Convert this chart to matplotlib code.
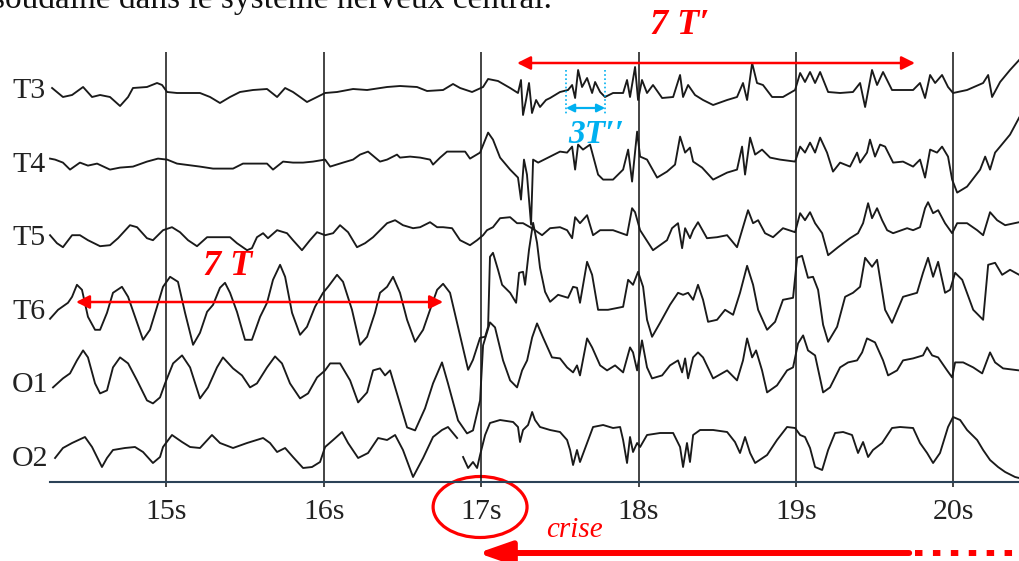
import matplotlib.pyplot as plt
import numpy as np
from matplotlib.patches import Ellipse

# EEG montage (time in s, amplitude in arbitrary units, up = positive)
channels = ['T3', 'T4', 'T5', 'T6', 'O1', 'O2']
seconds = [15, 16, 17, 18, 19, 20]
tick_labels = ['15s', '16s', '17s', '18s', '19s', '20s']

t_T3 = [14.273, 14.342, 14.400, 14.470, 14.527, 14.578, 14.641, 14.705, 14.756, 14.787, 14.876, 14.940,
        14.972, 15.004, 15.067, 15.213, 15.277, 15.340, 15.404, 15.467, 15.550, 15.639, 15.703, 15.754,
        15.804, 15.849, 15.893, 15.957, 16.008, 16.084, 16.186, 16.275, 16.402, 16.484, 16.592, 16.656,
        16.758, 16.821, 16.866, 16.942, 17.012, 17.044, 17.107, 17.184, 17.234, 17.253, 17.266, 17.285,
        17.304, 17.323, 17.349, 17.374, 17.412, 17.438, 17.501, 17.552, 17.578, 17.597, 17.616, 17.641,
        17.673, 17.705, 17.724, 17.756, 17.787, 17.838, 17.902, 17.927, 17.946, 17.978, 17.997, 18.022,
        18.054, 18.092, 18.150, 18.220, 18.264, 18.283, 18.315, 18.359, 18.410, 18.474, 18.563, 18.626,
        18.664, 18.690, 18.722, 18.753, 18.791, 18.849, 18.918, 18.995, 19.027, 19.058, 19.090, 19.122,
        19.154, 19.205, 19.281, 19.363, 19.408, 19.440, 19.484, 19.516, 19.554, 19.611, 19.745, 19.789,
        19.821, 19.853, 19.885, 19.929, 19.967, 19.999, 20.088, 20.190, 20.222, 20.247, 20.298, 20.361,
        20.419]
a_T3 = [0, -9, -7, 1, -9, -7, -9, -18, -9, 0, 1, 5,
        3, -4, -5, -5, -9, -15, -9, -4, -2, -1, -9, 0,
        -4, -9, -14, -9, -5, -4, -1, -2, 1, 2, 1, -3,
        -2, 4, 0, -4, 1, 9, 7, 0, -5, 8, -27, -12,
        5, -25, -12, -19, -12, -10, -4, -2, 3, -10, 18, 1,
        10, -5, 6, -4, -9, -5, -5, 8, -9, 21, -12, 8,
        -5, 3, -10, -9, 13, -9, 3, -7, -12, -17, -12, -9,
        5, -12, 25, 5, 3, -9, -9, -2, 15, 6, 16, 5,
        16, -4, -5, -4, 5, -19, 18, 3, 16, -2, -2, 5,
        -10, 13, 5, 13, 1, -5, -2, 5, 13, -9, 6, 18,
        28]

t_T4 = [14.260, 14.292, 14.342, 14.387, 14.450, 14.501, 14.559, 14.641, 14.705, 14.787, 14.876, 14.946,
        15.004, 15.067, 15.213, 15.296, 15.423, 15.486, 15.639, 15.677, 15.741, 15.804, 15.868, 15.931,
        16.008, 16.040, 16.122, 16.186, 16.230, 16.281, 16.357, 16.402, 16.465, 16.484, 16.548, 16.612,
        16.675, 16.694, 16.739, 16.783, 16.847, 16.898, 16.929, 16.993, 17.044, 17.075, 17.120, 17.184,
        17.234, 17.253, 17.272, 17.291, 17.317, 17.330, 17.362, 17.438, 17.501, 17.546, 17.578, 17.597,
        17.616, 17.647, 17.692, 17.743, 17.775, 17.838, 17.902, 17.934, 17.959, 17.991, 18.010, 18.054,
        18.118, 18.181, 18.232, 18.264, 18.296, 18.327, 18.347, 18.404, 18.474, 18.563, 18.626, 18.658,
        18.677, 18.709, 18.741, 18.785, 18.836, 18.899, 18.995, 19.027, 19.058, 19.090, 19.122, 19.154,
        19.198, 19.236, 19.281, 19.344, 19.389, 19.408, 19.452, 19.471, 19.503, 19.535, 19.567, 19.618,
        19.681, 19.745, 19.789, 19.821, 19.853, 19.897, 19.929, 19.967, 19.993, 20.025, 20.088, 20.171,
        20.203, 20.234, 20.266, 20.298, 20.361, 20.419]
a_T4 = [3, 2, -1, -8, -1, -4, -2, -8, -6, -5, 0, 3,
        2, -2, -5, -7, -7, -2, -2, -8, 0, -1, -1, 0,
        2, -5, -1, 2, 7, 10, 0, 2, 7, 4, 5, 4,
        2, -3, 4, 10, 10, 10, 3, 9, 29, 22, 4, -8,
        -16, -38, 2, -13, -63, 2, -1, 5, 10, 9, 15, -8,
        17, 12, 17, -13, -18, -18, -8, 12, -20, 30, 5, 2,
        -16, -10, -3, 25, 9, 14, 0, -6, -18, -11, -8, 15,
        -13, 24, 7, 12, 4, 2, 0, 15, 9, 19, 9, 24,
        9, -10, -1, -5, 9, -1, 9, 22, 5, 17, 15, -1,
        0, -5, 2, -16, 12, 9, 15, 5, -18, -31, -25, -8,
        5, -8, 9, 15, 27, 44]

t_T5 = [14.260, 14.304, 14.342, 14.400, 14.450, 14.501, 14.578, 14.641, 14.692, 14.768, 14.813, 14.876,
        14.914, 14.978, 15.035, 15.086, 15.137, 15.194, 15.258, 15.404, 15.448, 15.512, 15.543, 15.575,
        15.614, 15.645, 15.703, 15.766, 15.804, 15.861, 15.912, 15.957, 16.008, 16.059, 16.103, 16.154,
        16.211, 16.262, 16.313, 16.402, 16.453, 16.503, 16.567, 16.612, 16.675, 16.720, 16.758, 16.815,
        16.866, 16.929, 16.974, 17.012, 17.037, 17.075, 17.120, 17.184, 17.228, 17.266, 17.311, 17.342,
        17.387, 17.438, 17.501, 17.546, 17.578, 17.597, 17.628, 17.673, 17.711, 17.756, 17.838, 17.927,
        17.959, 17.978, 18.010, 18.092, 18.181, 18.213, 18.251, 18.277, 18.296, 18.327, 18.347, 18.378,
        18.435, 18.499, 18.563, 18.626, 18.664, 18.696, 18.728, 18.760, 18.804, 18.855, 18.918, 18.995,
        19.027, 19.058, 19.090, 19.122, 19.167, 19.205, 19.268, 19.344, 19.395, 19.427, 19.459, 19.484,
        19.516, 19.548, 19.580, 19.618, 19.707, 19.745, 19.789, 19.821, 19.840, 19.872, 19.904, 19.948,
        19.993, 20.025, 20.088, 20.152, 20.190, 20.234, 20.279, 20.330, 20.419]
a_T5 = [0, -8, -12, 0, 0, -5, -11, -10, -3, 10, 8, -3,
        -5, 5, 8, 3, -5, -11, -2, -2, -8, -15, -13, -2,
        2, -3, 5, 2, -5, -15, -5, 3, 0, 2, 10, 3,
        -12, -8, -2, 12, 15, 10, 7, 8, 13, 8, 8, 7,
        -5, -10, -5, 0, 5, 8, 17, 18, 12, 12, 8, 5,
        0, 7, 8, 5, -3, 18, 12, 20, 0, 5, 5, 0,
        27, 23, 5, -15, -5, 7, 12, -13, 7, -3, 5, 13,
        -3, -2, 0, -12, 8, 25, 12, 15, 2, -2, 7, 3,
        22, 15, 23, 12, 2, -20, -12, -3, 2, 12, 32, 17,
        27, 15, 5, 2, 7, 5, 8, 27, 33, 22, 25, 12,
        2, 12, 12, 5, 0, 23, 15, 10, 13]

t_T6 = [14.260, 14.311, 14.374, 14.400, 14.431, 14.463, 14.501, 14.546, 14.578, 14.622, 14.660, 14.717,
        14.756, 14.813, 14.851, 14.895, 14.940, 14.978, 15.023, 15.073, 15.118, 15.169, 15.213, 15.258,
        15.296, 15.340, 15.372, 15.404, 15.448, 15.499, 15.543, 15.595, 15.639, 15.677, 15.722, 15.754,
        15.798, 15.849, 15.893, 15.944, 15.995, 16.027, 16.084, 16.122, 16.179, 16.230, 16.275, 16.325,
        16.357, 16.402, 16.440, 16.484, 16.529, 16.580, 16.631, 16.675, 16.720, 16.758, 16.802, 16.853,
        16.917, 16.948, 16.993, 17.025, 17.044, 17.056, 17.075, 17.107, 17.133, 17.184, 17.222, 17.241,
        17.266, 17.279, 17.304, 17.330, 17.355, 17.374, 17.406, 17.438, 17.489, 17.552, 17.584, 17.609,
        17.628, 17.673, 17.705, 17.743, 17.806, 17.902, 17.934, 17.965, 17.997, 18.029, 18.054, 18.086,
        18.137, 18.200, 18.251, 18.283, 18.315, 18.347, 18.378, 18.410, 18.442, 18.499, 18.550, 18.601,
        18.645, 18.690, 18.728, 18.760, 18.817, 18.868, 18.918, 18.982, 19.008, 19.039, 19.077, 19.109,
        19.141, 19.173, 19.205, 19.262, 19.313, 19.363, 19.408, 19.440, 19.484, 19.516, 19.567, 19.611,
        19.681, 19.770, 19.808, 19.840, 19.872, 19.904, 19.948, 19.980, 20.012, 20.057, 20.127, 20.190,
        20.222, 20.266, 20.311, 20.361, 20.419]
a_T6 = [-10, -1, 6, 12, 24, 19, -8, -21, -21, -4, 16, 22,
        12, -14, -31, -21, 2, 22, 32, 27, -4, -36, -24, -3,
        4, 21, 26, 16, -3, -31, -31, -8, 6, 29, 44, 32,
        -4, -26, -18, 2, 16, 22, 34, 27, -1, -36, -28, -4,
        16, 22, 32, 16, -11, -33, -21, -1, 19, 25, 16, -18,
        -61, -51, -29, -28, -18, 52, 56, 39, 24, 16, 6, 36,
        37, 24, 59, 86, 66, 41, 17, 7, 14, 11, 22, 21,
        6, 47, 34, -1, -1, 2, 29, 24, 37, 22, -11, -28,
        -14, 4, 16, 14, 16, 9, 24, 9, -13, -11, -1, -6,
        16, 43, 24, -1, -21, -13, 9, 11, 51, 53, 31, 32,
        19, -16, -33, -18, 12, 16, 22, 51, 42, 49, -1, -14,
        12, 16, 36, 51, 32, 47, 16, 19, 36, 29, -1, -11,
        44, 46, 34, 39, 34]

t_O1 = [14.279, 14.342, 14.387, 14.431, 14.470, 14.501, 14.546, 14.578, 14.622, 14.660, 14.705, 14.756,
        14.813, 14.876, 14.914, 14.959, 14.991, 15.042, 15.099, 15.150, 15.213, 15.264, 15.321, 15.359,
        15.423, 15.480, 15.531, 15.575, 15.639, 15.690, 15.734, 15.785, 15.849, 15.900, 15.957, 16.008,
        16.040, 16.103, 16.167, 16.218, 16.275, 16.313, 16.357, 16.389, 16.421, 16.472, 16.529, 16.580,
        16.643, 16.694, 16.751, 16.789, 16.853, 16.910, 16.948, 16.993, 17.012, 17.056, 17.088, 17.139,
        17.184, 17.228, 17.260, 17.292, 17.324, 17.355, 17.393, 17.450, 17.501, 17.546, 17.584, 17.609,
        17.628, 17.673, 17.705, 17.756, 17.800, 17.851, 17.902, 17.946, 17.965, 17.991, 18.022, 18.054,
        18.086, 18.150, 18.200, 18.251, 18.277, 18.296, 18.315, 18.347, 18.378, 18.410, 18.474, 18.563,
        18.626, 18.664, 18.690, 18.722, 18.747, 18.785, 18.817, 18.880, 18.944, 18.982, 19.014, 19.046,
        19.077, 19.122, 19.173, 19.217, 19.281, 19.332, 19.389, 19.421, 19.452, 19.503, 19.554, 19.586,
        19.643, 19.681, 19.745, 19.808, 19.834, 19.866, 19.904, 19.961, 19.993, 20.012, 20.063, 20.127,
        20.184, 20.234, 20.266, 20.317, 20.419]
a_O1 = [-5, 4, 9, 22, 32, 25, -1, -11, -8, 15, 25, 19,
        2, -18, -21, -15, -1, 19, 27, 15, -16, -5, 15, 25,
        14, 7, -5, -1, 15, 26, 19, -1, -16, -11, 5, 12,
        19, 19, 2, -20, -10, 12, 14, 7, 12, -15, -45, -48,
        -26, -1, 20, -1, -38, -51, -48, -18, 37, 60, 55, 22,
        2, -5, 12, 22, 45, 59, 45, 25, 24, 15, 10, 17,
        7, 44, 35, 17, 12, 17, 10, 35, 30, 12, 42, 15,
        4, 7, 17, 22, 10, 24, 4, 25, 30, 25, 4, 12,
        2, 22, 44, 25, 32, 12, -10, -3, 12, 15, 39, 47,
        32, 27, -10, -5, 15, 20, 22, 30, 44, 40, 22, 7,
        12, 22, 24, 27, 35, 27, 25, 12, 5, 20, 20, 15,
        9, 30, 20, 14, 12]

t_O2 = [14.292, 14.342, 14.400, 14.482, 14.527, 14.590, 14.622, 14.660, 14.736, 14.800, 14.851, 14.914,
        14.959, 14.978, 15.035, 15.099, 15.150, 15.213, 15.289, 15.340, 15.423, 15.512, 15.614, 15.658,
        15.703, 15.754, 15.804, 15.868, 15.925, 15.976, 16.008, 16.059, 16.116, 16.154, 16.218, 16.281,
        16.345, 16.402, 16.453, 16.503, 16.567, 16.631, 16.694, 16.751, 16.789, 16.847, 16.866, 16.885,
        16.917, 16.948, 16.974, 16.993, 17.025, 17.056, 17.120, 17.203, 17.234, 17.247, 17.266, 17.298,
        17.324, 17.342, 17.374, 17.438, 17.501, 17.546, 17.565, 17.584, 17.609, 17.628, 17.673, 17.711,
        17.775, 17.838, 17.883, 17.902, 17.927, 17.946, 17.965, 17.991, 18.010, 18.054, 18.137, 18.220,
        18.264, 18.283, 18.308, 18.327, 18.347, 18.391, 18.474, 18.563, 18.613, 18.645, 18.677, 18.709,
        18.741, 18.817, 18.880, 18.944, 18.995, 19.027, 19.058, 19.090, 19.122, 19.167, 19.205, 19.249,
        19.300, 19.357, 19.395, 19.427, 19.459, 19.490, 19.548, 19.611, 19.662, 19.745, 19.789, 19.834,
        19.872, 19.916, 19.967, 19.999, 20.044, 20.088, 20.152, 20.190, 20.234, 20.285, 20.330, 20.393,
        20.419]
a_O2 = [-2, 8, 13, 19, 9, -11, -2, 6, 8, 9, 4, -7,
        -1, 9, 21, 14, 9, 8, 21, 13, 8, 13, 18, 13,
        4, 8, -1, -12, -11, -6, 9, 16, 24, 13, -2, 3,
        18, 16, 21, 6, -21, -2, 19, 26, 29, 18, np.nan, -1,
        -12, -6, -12, 1, 21, 33, 36, 34, 29, 14, 26, 31,
        44, 36, 29, 26, 24, 16, 6, -9, 6, -6, 13, 29,
        31, 28, 29, 16, -7, 19, 4, 13, 9, 21, 23, 23,
        9, -11, 13, -6, 21, 26, 26, 24, 14, 3, 19, 3,
        -7, 1, 16, 29, 28, 21, 19, 8, -11, -14, 6, 23,
        24, 21, 3, 14, -1, 6, 13, 28, 29, 28, 13, 3,
        -7, 3, 29, 39, 36, 26, 16, 6, -4, -11, -16, -21,
        -22]

traces = [(t_T3, a_T3), (t_T4, a_T4), (t_T5, a_T5), (t_T6, a_T6), (t_O1, a_O1), (t_O2, a_O2)]

serif = ['Liberation Serif', 'DejaVu Serif']
ink = '#1a1a1a'
label_ink = '#222222'

fig = plt.figure(figsize=(10.19, 5.61), dpi=100)
ax = fig.add_axes([0, 0, 1, 1])
ax.set_xlim(13.942, 20.418)
ax.set_ylim(561, 0)
ax.axis('off')

# channel rows, spaced evenly down the page
offsets = 88 + 73.6 * np.arange(len(channels))

# one-second grid lines and the time axis
ax.vlines(seconds, 52, 487, color='#111111', lw=1.1)
ax.plot([14.26, 20.45], [482, 482], color='#2b4257', lw=1.5)
for s, lab in zip(seconds, tick_labels):
    ax.text(s, 519, lab, ha='center', va='baseline', fontsize=21.5, family=serif, color=label_ink)

for name, off, (t, a) in zip(channels, offsets, traces):
    ax.plot(t, off - np.array(a, dtype=float), color=ink, lw=1.35, solid_joinstyle='round')
    ax.text(14.018, off + 10, name, ha='left', va='baseline', fontsize=21.5, family=serif, color=label_ink)

# line of body text above the figure, cut by the top edge as in the scan
ax.text(13.891, 8, 'soudaine dans le système nerveux central.', ha='left', va='baseline',
        fontsize=24, family=serif, color='#111111')

red = '#ff0000'
cyan = '#00b0f0'

# 7 T' over the seizure part
ax.annotate('', xy=(19.757, 63), xytext=(17.228, 63),
            arrowprops=dict(arrowstyle='<|-|>', color=red, lw=1.8, mutation_scale=20, shrinkA=0, shrinkB=0))
ax.text(18.264, 25, '7 T′', ha='center', va='center', fontsize=26, fontweight='bold', fontstyle='italic',
        family=serif, color=red)

# 3T'' on T3
for tc in [17.539, 17.788]:
    ax.plot([tc, tc], [70, 115], color=cyan, lw=1.2, ls=(0, (1, 1.5)))
ax.annotate('', xy=(17.788, 108), xytext=(17.539, 108),
            arrowprops=dict(arrowstyle='<|-|>', color=cyan, lw=1.6, mutation_scale=12, shrinkA=0, shrinkB=0))
ax.text(17.73, 134, '3T′′', ha='center', va='center', fontsize=24, fontweight='bold', fontstyle='italic',
        family=serif, color=cyan)

# 7 T on T6 before the seizure
ax.annotate('', xy=(16.758, 302), xytext=(14.425, 302),
            arrowprops=dict(arrowstyle='<|-|>', color=red, lw=1.8, mutation_scale=20, shrinkA=0, shrinkB=0))
ax.text(15.391, 266, '7 T', ha='center', va='center', fontsize=26, fontweight='bold', fontstyle='italic',
        family=serif, color=red)

# onset marker
ax.add_patch(Ellipse((16.993, 507), 0.597, 61, fill=False, edgecolor=red, lw=2.3))
ax.text(17.59, 530, 'crise', ha='center', va='center', fontsize=21, fontstyle='italic', family=serif, color=red)
ax.annotate('', xy=(16.98, 553), xytext=(19.72, 553),
            arrowprops=dict(arrowstyle='-|>,head_length=1.0,head_width=0.35', color=red, lw=4.3,
                            mutation_scale=20, shrinkA=0, shrinkB=0))
ax.plot([19.758, 20.45], [553, 553], color=red, lw=4.3, ls=(0, (1.25, 1.75)), dash_capstyle='butt')

fig.savefig('out.png', dpi=100, facecolor='white')
